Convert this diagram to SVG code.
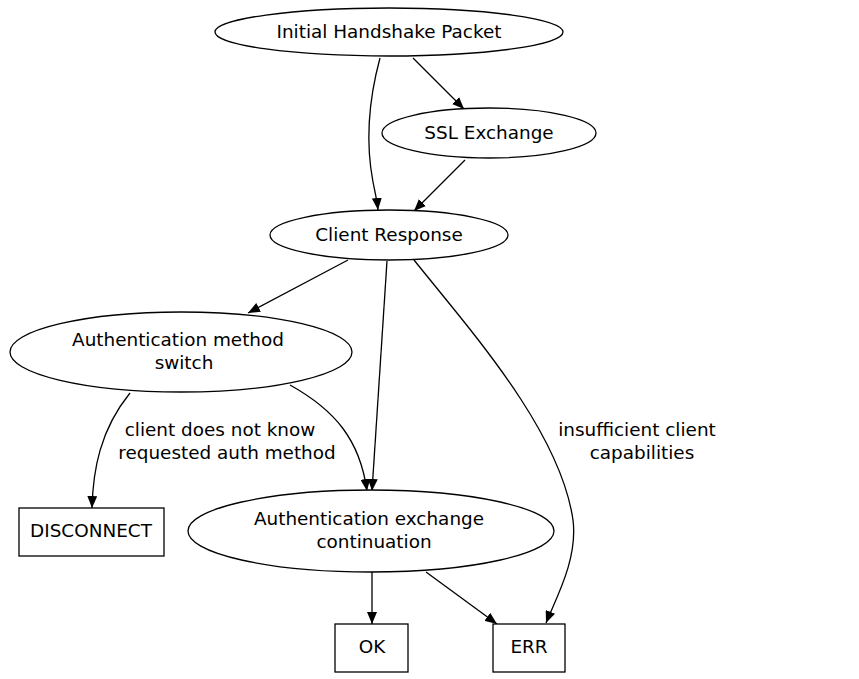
<svg xmlns="http://www.w3.org/2000/svg" width="859" height="679" viewBox="0 0 859 679">
<style>
.n{fill:#fff;stroke:#000;stroke-width:1.3}
.t{font-family:"DejaVu Sans",sans-serif;font-size:18.4px;fill:#000;text-anchor:middle}
.e{fill:none;stroke:#000;stroke-width:1.3}
</style>
<defs>
<marker id="ah" viewBox="0 0 12 10" refX="12" refY="5" markerWidth="12" markerHeight="10" markerUnits="userSpaceOnUse" orient="auto">
<path d="M0,0 L12,5 L0,10 z" fill="#000"/>
</marker>
</defs>
<rect width="859" height="679" fill="#fff"/>
<g id="connectors">
<path class="e" marker-end="url(#ah)" d="M380,58 C370,95 365,140 373,182 C375,192 377,200 378,210"/>
<path class="e" marker-end="url(#ah)" d="M413,58 L464,109"/>
<path class="e" marker-end="url(#ah)" d="M465,160 L414,211"/>
<path class="e" marker-end="url(#ah)" d="M348,260 L248,313"/>
<path class="e" marker-end="url(#ah)" d="M387,261 L372,491"/>
<path class="e" marker-end="url(#ah)" d="M414,260 C470,330 560,430 573,520 C578,560 555,600 546,623"/>
<path class="e" marker-end="url(#ah)" d="M130,393 C100,430 93,470 92,508"/>
<path class="e" marker-end="url(#ah)" d="M290,385 C335,410 360,440 367,491"/>
<path class="e" marker-end="url(#ah)" d="M372,572 L372,624"/>
<path class="e" marker-end="url(#ah)" d="M426,572 L497,624"/>
<text class="t" x="220" y="436">client does not know</text>
<text class="t" x="227" y="459">requested auth method</text>
<text class="t" x="637" y="436">insufficient client</text>
<text class="t" x="642" y="459">capabilities</text>
</g>
<g id="initial">
<ellipse class="n" cx="389" cy="32" rx="174" ry="24"/>
<text class="t" x="389" y="38">Initial Handshake Packet</text>
</g>
<g id="ssl">
<ellipse class="n" cx="489" cy="133" rx="107" ry="25"/>
<text class="t" x="489" y="139">SSL Exchange</text>
</g>
<g id="client">
<ellipse class="n" cx="389" cy="235" rx="119" ry="25"/>
<text class="t" x="389" y="241">Client Response</text>
</g>
<g id="authswitch">
<ellipse class="n" cx="181" cy="352" rx="171" ry="40"/>
<text class="t" x="178" y="346">Authentication method</text>
<text class="t" x="184" y="369">switch</text>
</g>
<g id="authcont">
<ellipse class="n" cx="371" cy="531" rx="183" ry="41"/>
<text class="t" x="369" y="525">Authentication exchange</text>
<text class="t" x="374" y="548">continuation</text>
</g>
<g id="disconnect">
<rect class="n" x="19" y="508" width="145" height="48"/>
<text class="t" x="91" y="537">DISCONNECT</text>
</g>
<g id="ok">
<rect class="n" x="335" y="624" width="73" height="48"/>
<text class="t" x="372" y="653">OK</text>
</g>
<g id="err">
<rect class="n" x="493" y="624" width="72" height="48"/>
<text class="t" x="529" y="653">ERR</text>
</g>
</svg>
